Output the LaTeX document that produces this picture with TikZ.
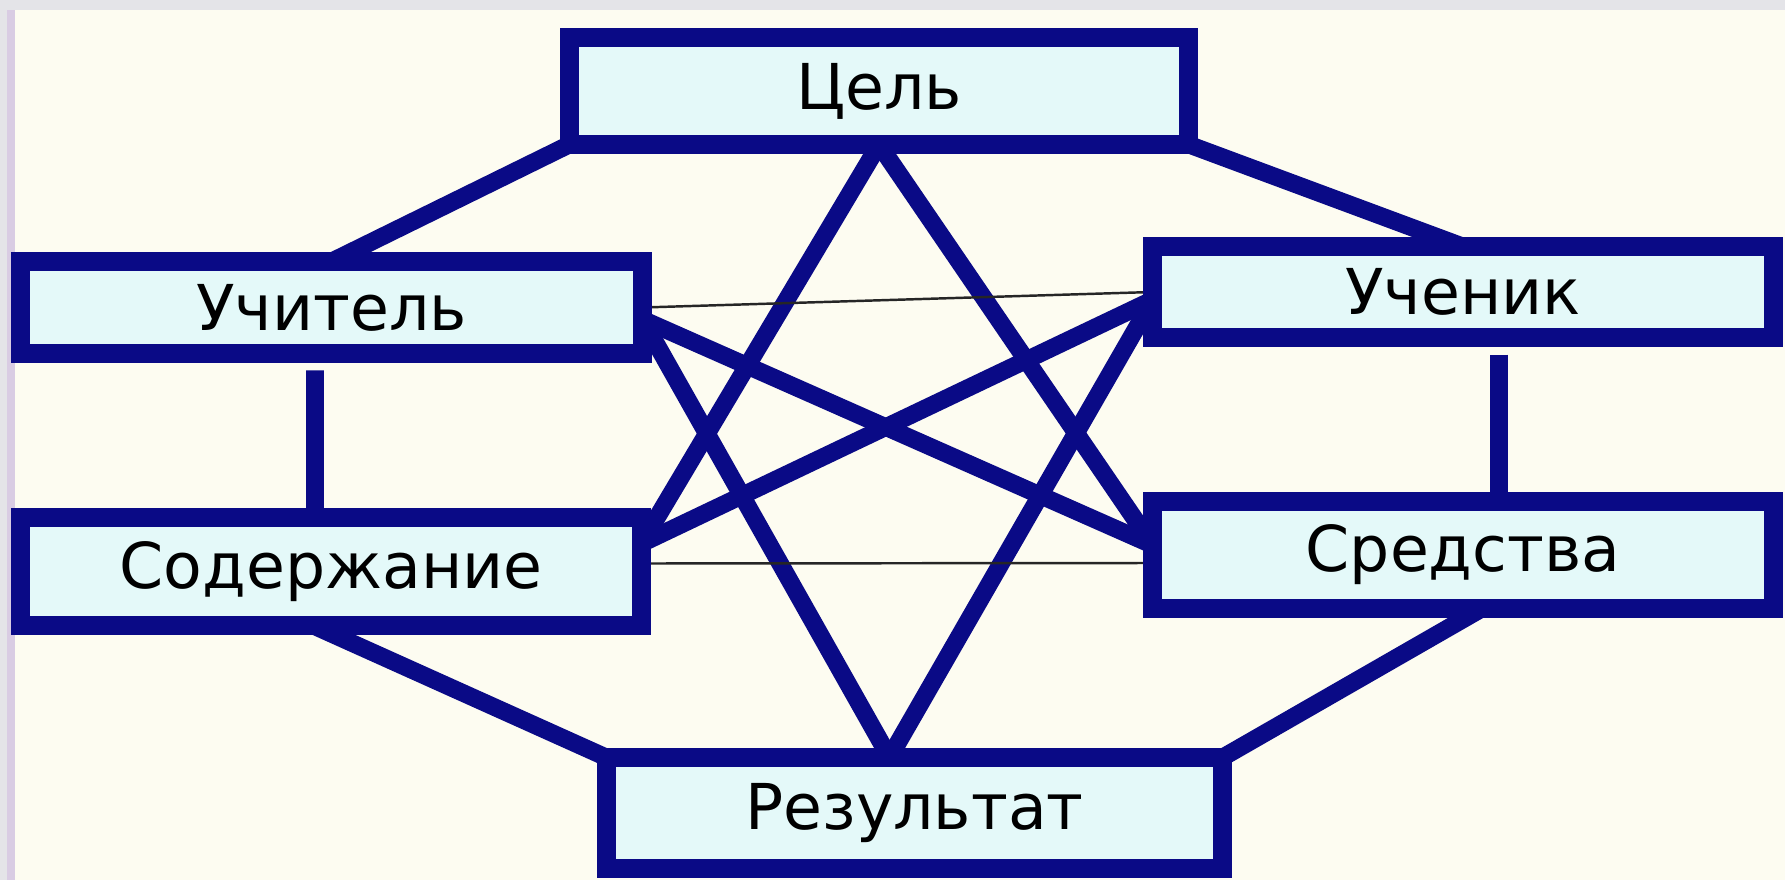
\documentclass[tikz,border=0pt]{standalone}
\usepackage{fontspec}
\setmainfont{DejaVu Sans}
\usetikzlibrary{calc,backgrounds}
\definecolor{frameBlue}{HTML}{0A0A86}
\definecolor{boxCyan}{HTML}{E4F9F9}
\definecolor{paper}{HTML}{FDFCF1}
\definecolor{edgeGrey}{HTML}{E4E4E8}
\definecolor{edgeLilac}{HTML}{D9CCE3}
\tikzset{
  box/.style={draw=frameBlue, fill=boxCyan, line width=5.4pt, inner sep=0pt,
              outer sep=0pt, minimum width=6.21cm, minimum height=1.06cm,
              font=\fontsize{18}{21}\selectfont},
  link/.style={draw=frameBlue, line width=5pt},
  hair/.style={draw=black!85, line width=0.7pt},
  stem/.style={link, shorten <=0.17cm},
}
\begin{document}
\begin{tikzpicture}
    \useasboundingbox (0,0) rectangle (17.85,8.80);

    % the six boxes
    \node[box,minimum width=6.19cm,minimum height=1.07cm] (goal) at (8.79,7.89) {Цель};
    \node[box,minimum width=6.22cm,minimum height=0.92cm] (teacher) at (3.315,5.725) {Учитель};
    \node[box,minimum height=0.91cm] (pupil) at (14.63,5.88) {Ученик};
    \node[box,minimum height=1.08cm] (content) at (3.31,3.085) {Содержание};
    \node[box,minimum height=1.07cm] (means) at (14.63,3.25) {Средства};
    \node[box,minimum width=6.16cm,minimum height=1.11cm] (result) at (9.145,0.67) {Результат};

    % meeting points of the star
    \coordinate (tip) at ($(result.north)+(-0.25,0)$);
    \coordinate (tR) at ($(teacher.east)+(0,-0.12)$);
    \coordinate (pL) at ($(pupil.west)+(0,-0.08)$);
    \coordinate (cR) at ($(content.east)+(0,0.28)$);
    \coordinate (mL) at ($(means.west)+(0,0.1)$);

    \begin{scope}[on background layer]
      % paper
      \fill[paper] (0,0) rectangle (17.85,8.80);
      \fill[edgeGrey] (0,8.70) rectangle (17.85,8.80);
      \fill[edgeGrey] (0,0) rectangle (0.07,8.70);
      \fill[edgeLilac] (0.07,0) rectangle (0.15,8.70);

      % outer ring
      \draw[link] (goal.south west) -- (teacher.north);
      \draw[link] (goal.south east) -- (pupil.north);
      \draw[link] ($(content.south)+(-0.18,0)$) -- (result.north west);
      \draw[link] ($(means.south)+(0.19,0)$) -- (result.north east);
      \draw[stem] ($(teacher.south)+(-0.165,0)$) -- ($(content.north)+(-0.16,0)$);
      \draw[stem] ($(pupil.south)+(0.36,0)$) -- ($(means.north)+(0.36,0)$);

      % star
      \draw[link] (goal.south) -- (cR);
      \draw[link] (goal.south) -- (mL);
      \draw[link] (tR) -- (mL);
      \draw[link] (tR) -- (tip);
      \draw[link] (pL) -- (cR);
      \draw[link] (pL) -- (tip);
      \draw[hair] (teacher.east) -- (pupil.west);
      \draw[hair] ($(content.east)+(0,0.08)$) -- ($(means.west)+(0,-0.08)$);
    \end{scope}
\end{tikzpicture}
\end{document}
